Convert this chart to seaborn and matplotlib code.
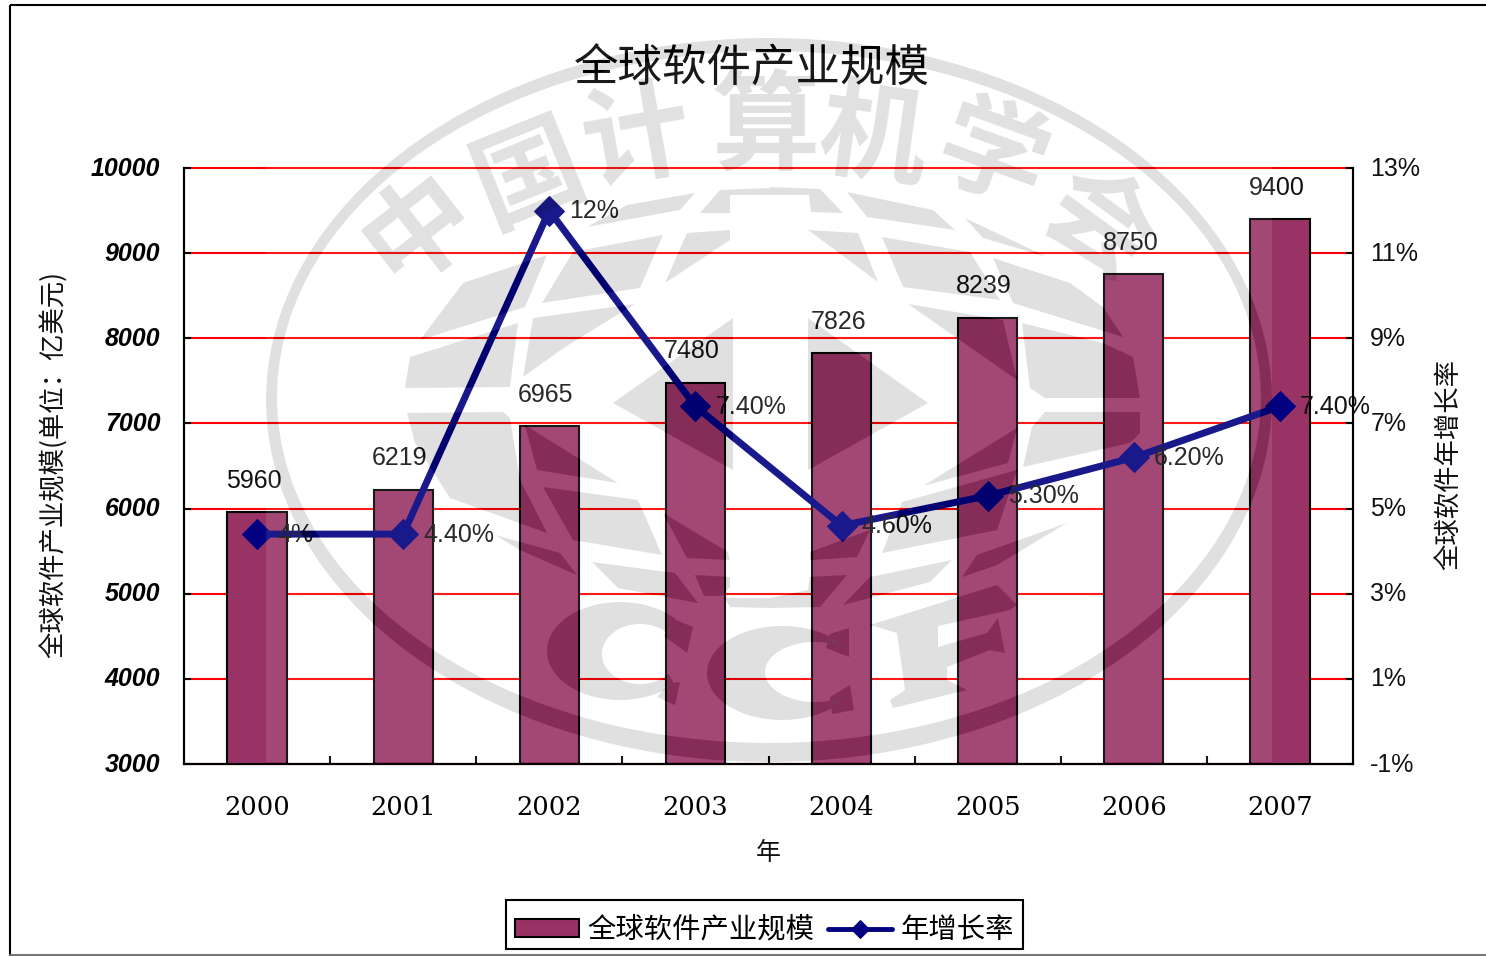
import numpy as np
import pandas as pd
import matplotlib
matplotlib.use('Agg')
import matplotlib.pyplot as plt
from matplotlib.patches import PathPatch, Polygon, Rectangle
from matplotlib.path import Path
from matplotlib.transforms import ScaledTranslation
import seaborn as sns

# valeurs du graphique
years = ['2000', '2001', '2002', '2003', '2004', '2005', '2006', '2007']
market = [5960, 6219, 6965, 7480, 7826, 8239, 8750, 9400]
growth = [4.4, 4.4, 12, 7.4, 4.6, 5.3, 6.2, 7.4]
growth_labels = ['4%', '4.40%', '12%', '7.40%', '4.60%', '5.30%', '6.20%', '7.40%']
left_ticks = [3000, 4000, 5000, 6000, 7000, 8000, 9000, 10000]
right_ticks = [-1, 1, 3, 5, 7, 9, 11, 13]

sns.set_theme(style='white')
plt.rcParams['font.family'] = ['Liberation Sans', 'Noto Sans CJK SC']
cjk = ['Noto Sans CJK SC', 'Liberation Sans']

W, H = 1486, 956
fig = plt.figure(figsize=(W / 100, H / 100), dpi=100, facecolor='white')
ax = fig.add_axes([184 / W, 1 - 764 / H, (1353 - 184) / W, (764 - 168) / H], zorder=1)
up_2px = ScaledTranslation(0, 2 / 100, fig.dpi_scale_trans)

df = pd.DataFrame({'year': years, 'market': market, 'growth': growth})

# barres
sns.barplot(data=df, x='year', y='market', color='#993366', saturation=1, width=0.405,
            edgecolor='black', linewidth=1.5, ax=ax, zorder=3, label='全球软件产业规模')
bar_handles, _ = ax.get_legend_handles_labels()
if ax.get_legend() is not None:
    ax.get_legend().remove()
ax.set_ylim(3000, 10000)
ax.set_xlim(-0.5, 7.5)
ax.set_yticks(left_ticks)
ax.set_yticklabels(left_ticks, fontweight='bold', fontstyle='italic', fontsize=18, color='black')
ax.yaxis.grid(True, color='#ff0000', linewidth=1.5, zorder=1)
for gl in ax.get_ygridlines():
    gl.set_clip_on(False)
ax.set_axisbelow(True)
ax.tick_params(axis='y', direction='in', length=5, width=1.5, color='black', left=True, pad=17)
for lbl in ax.get_yticklabels():
    lbl.set_transform(lbl.get_transform() + up_2px)
ax.set_xticks(range(len(years)))
ax.set_xticklabels(years, family='DejaVu Serif', fontsize=18.5, color='black')
ax.tick_params(axis='x', which='major', length=0, pad=22)
ax.set_xticks(np.arange(len(years) - 1) + 0.5, minor=True)
ax.tick_params(axis='x', which='minor', direction='in', length=6, width=1.5, color='black', bottom=True)
ax.set_xlabel('')
ax.set_ylabel('')
for s in ['left', 'bottom', 'right']:
    ax.spines[s].set_color('black')
    ax.spines[s].set_linewidth(1.5)
ax.spines['top'].set_visible(False)

for i, v in enumerate(market):
    ax.annotate(str(v), (i, v), xytext=(-2.5, 14), textcoords='offset points',
                ha='center', va='bottom', fontsize=18, color='#111111', zorder=6, annotation_clip=False)

# courbe sur le deuxieme axe
ax2 = ax.twinx()
ax2.set_zorder(2)
ax2.patch.set_visible(False)
sns.lineplot(x=range(len(years)), y=growth, color='#000080', linewidth=5, marker='D',
             markersize=15, markeredgecolor='#000080', ax=ax2, label='年增长率')
line_handles, _ = ax2.get_legend_handles_labels()
if ax2.get_legend() is not None:
    ax2.get_legend().remove()
ax2.set_ylim(-1, 13)
ax2.set_yticks(right_ticks)
ax2.set_yticklabels([f'{t}%' for t in right_ticks], fontsize=18, color='#111111')
ax2.tick_params(axis='y', direction='in', length=5, width=1.5, color='black', right=True, pad=12.5)
for lbl in ax2.get_yticklabels():
    lbl.set_transform(lbl.get_transform() + up_2px)
ax2.grid(False)
ax2.set_ylabel('')
for s in ['left', 'bottom', 'right']:
    ax2.spines[s].set_color('black')
    ax2.spines[s].set_linewidth(1.5)
ax2.spines['top'].set_visible(False)

for i, (v, lab) in enumerate(zip(growth, growth_labels)):
    ax2.annotate(lab, (i, v), xytext=(14.5, -0.5), textcoords='offset points', ha='left', va='center',
                 fontsize=18, color='#111111', annotation_clip=False)

# textes
fig.text(752 / W, 1 - 69 / H, '全球软件产业规模', fontsize=32, family=cjk, ha='center', va='center', color='black')
fig.text(54 / W, 1 - 464 / H, '全球软件产业规模(单位：亿美元)', fontsize=19, family=cjk, rotation=90,
         ha='center', va='center', color='#111111')
fig.text(1450 / W, 1 - 465 / H, '全球软件年增长率', fontsize=19, family=cjk, rotation=90,
         ha='center', va='center', color='#111111')
fig.text(768 / W, 1 - 853 / H, '年', fontsize=18, family=cjk, ha='center', va='center', color='#111111')

# legende
leg = fig.legend(bar_handles[:1] + line_handles[:1], ['全球软件产业规模', '年增长率'], ncol=2, loc='center',
                 bbox_to_anchor=(764.5 / W, 1 - 924.5 / H), frameon=True, fancybox=False, framealpha=1,
                 edgecolor='black', prop={'family': cjk, 'size': 20.4}, handlelength=2.25, handleheight=0.55,
                 columnspacing=0.5, handletextpad=0.3, borderpad=0.33, borderaxespad=0)
leg.get_frame().set_linewidth(1.5)
leg.set_zorder(10)
for t in leg.get_texts():
    t.set_color('black')
    t.set_position((0, -5))
box, mark = leg.legend_handles
box.set_y(box.get_y() - 4)
mark.set_ydata(np.asarray(mark.get_ydata()) - 4)
mark.set_markersize(9)
mark.set_linewidth(3.5)

# filigrane par-dessus tout, en coordonnees pixel
wm = fig.add_axes([0, 0, 1, 1], zorder=5)
wm.set_xlim(0, W)
wm.set_ylim(H, 0)
wm.axis('off')
wm.patch.set_visible(False)
INK = dict(facecolor='black', edgecolor='none', alpha=0.12)


def crescent(c_out, r_out, c_in, r_in, a0=0, a1=360):
    # anneau entre deux ellipses, de a0 a a1 degres
    t = np.radians(np.linspace(a0, a1, 160))
    outer = np.c_[c_out[0] + r_out[0] * np.cos(t), c_out[1] - r_out[1] * np.sin(t)]
    inner = np.c_[c_in[0] + r_in[0] * np.cos(t), c_in[1] - r_in[1] * np.sin(t)]
    return np.r_[outer, inner[::-1]]


emblem = [
    [(587, 227), (627, 205), (695, 193), (680, 210)],
    [(700, 213), (720, 190), (770, 188), (770, 195), (730, 195), (730, 213)],
    [(542, 303), (573, 252), (663, 235), (640, 288)],
    [(665, 283), (687, 233), (730, 230), (730, 240)],
    [(420, 340), (463, 283), (547, 255), (525, 307)],
    [(523, 377), (533, 318), (635, 304), (565, 347)],
    [(405, 388), (410, 357), (518, 323), (510, 387)],
    [(407, 413), (503, 412), (510, 418), (520, 480), (547, 533), (450, 498), (415, 443)],
    [(525, 425), (597, 470), (618, 483), (537, 470)],
    [(543, 487), (638, 500), (662, 555), (573, 540)],
    [(495, 535), (560, 553), (577, 575), (520, 550)],
    [(663, 513), (728, 552), (730, 560), (687, 558)],
    [(592, 562), (675, 573), (698, 603), (618, 588)],
    [(695, 575), (730, 577), (730, 587), (722, 596), (704, 596)],
    [(725, 598), (770, 598), (808, 590), (810, 577), (847, 575), (820, 607), (770, 608), (730, 607)],
    [(613, 403), (733, 318), (733, 470)],
    [(808, 318), (928, 403), (808, 470)],
    [(770, 187), (820, 189), (843, 213), (811, 212), (809, 195), (770, 195)],
    [(847, 192), (933, 210), (955, 230), (867, 217)],
    [(808, 230), (858, 233), (878, 282)],
    [(882, 237), (970, 252), (1000, 300), (903, 287)],
    [(965, 218), (1047, 257), (983, 238)],
    [(993, 258), (1070, 283), (1103, 307), (1123, 337), (1013, 303)],
    [(908, 304), (1003, 320), (1017, 380)],
    [(1022, 323), (1103, 343), (1133, 357), (1140, 398), (1045, 398), (1030, 388)],
    [(1045, 412), (1140, 412), (1140, 433), (1130, 443), (1023, 467), (1032, 427)],
    [(1017, 428), (1008, 463), (923, 486)],
    [(882, 553), (902, 502), (1017, 470), (997, 530)],
    [(810, 552), (870, 530), (857, 557), (810, 560)],
    [(843, 605), (870, 577), (952, 560), (930, 582)],
    [(962, 577), (977, 555), (1067, 523), (997, 565)],
    # F de CCF
    [(870, 625), (997, 585), (1017, 605), (1010, 610), (938, 626), (938, 647), (987, 633), (998, 618),
     (1005, 653), (990, 650), (947, 667), (947, 680), (967, 690), (893, 708), (890, 700), (905, 690), (897, 633)],
    # empattements des deux C
    [(676, 620), (693, 627), (687, 653), (664, 636)],
    [(668, 684), (680, 682), (675, 705), (657, 697)],
    [(830, 634), (849, 628), (849, 657), (826, 648)],
    [(830, 697), (850, 685), (854, 710), (832, 714)],
]
shapes = [np.array(p, dtype=float) for p in emblem]
shapes.append(crescent((769, 400), (503, 362), (769, 397), (492, 346)))
shapes.append(crescent((620, 651), (73, 49), (640, 654), (38, 30), 40, 318))
shapes.append(crescent((782, 673), (75, 47), (815, 672), (50, 30), 50, 310))


def area(p):
    x, y = p[:, 0], p[:, 1]
    return 0.5 * np.sum(x * np.roll(y, -1) - y * np.roll(x, -1))


# voile blanc sur le rectangle de l'image, troue la ou passe le dessin
frame = np.array([(266, 38), (1272, 38), (1272, 762), (266, 762)], dtype=float)
paths = [Path(np.r_[frame, frame[:1]], closed=True)]
for p in shapes:
    q = p if area(p) * area(frame) < 0 else p[::-1]
    paths.append(Path(np.r_[q, q[:1]], closed=True))
wm.add_patch(PathPatch(Path.make_compound_path(*paths), facecolor='white', edgecolor='none', alpha=0.1))

for p in shapes:
    wm.add_patch(Polygon(p, closed=True, **INK))

seal = [('中', 420, 230, 38), ('国', 530, 176, 22), ('计', 637, 140, 10), ('算', 766, 130, 0),
        ('机', 873, 140, -8), ('学', 991, 160, -20), ('会', 1097, 227, -36)]
for ch, x, y, rot in seal:
    wm.text(x, y, ch, fontsize=78, family=cjk, fontweight='bold', rotation=rot, ha='center', va='center',
            color='black', alpha=0.12)

# cadre de la page
wm.add_patch(Rectangle((10, 5), W, H, facecolor='none', edgecolor='black', linewidth=1.5, clip_on=False))
wm.plot([10, W], [955, 955], color='#777777', linewidth=1.5)

fig.savefig('out.png', dpi=100)
